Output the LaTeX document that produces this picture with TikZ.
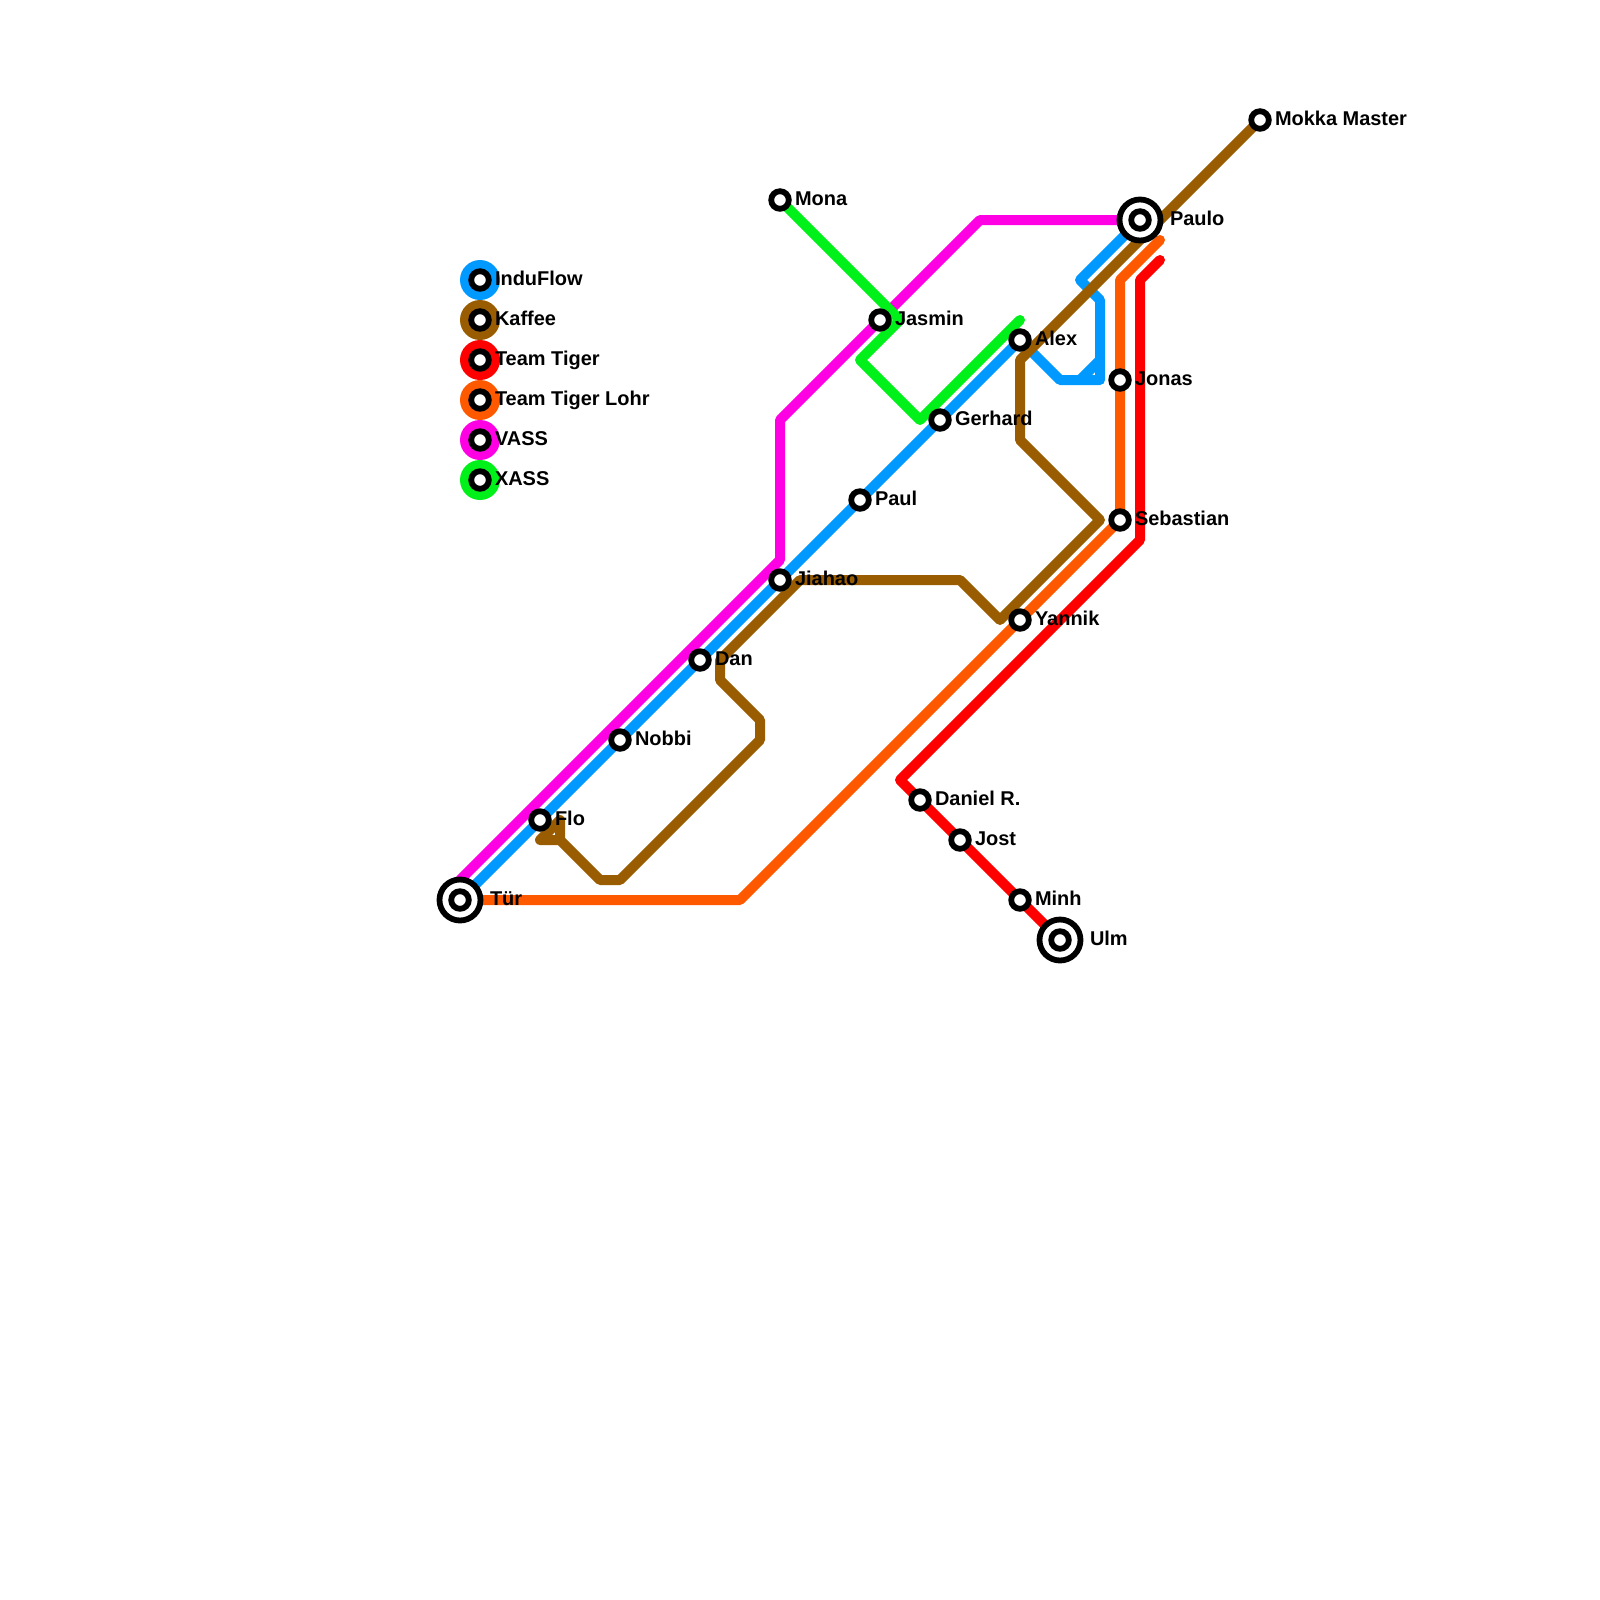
\documentclass[tikz,border=0pt]{standalone}
\usepackage{xcolor}
\usepackage{fontspec}
\setmainfont{Liberation Sans}
\usepackage{tikz}
\usetikzlibrary{positioning}
\definecolor{induflow}{RGB}{0, 153, 255}
\definecolor{kaffee}{RGB}{153, 92, 0}
\definecolor{tiger}{RGB}{255, 0, 0}
\definecolor{tigerlohr}{RGB}{255, 89, 0}
\definecolor{vass}{RGB}{255, 0, 229}
\definecolor{xass}{RGB}{0, 240, 25}
\tikzset{
    metroline/.style={line width=2.5mm, line cap=round, line join=round},
    stopdot/.style={circle, draw=black, fill=white, line width=1.45mm, minimum size=4.4mm, inner sep=0pt, outer sep=0pt},
    endring/.style={stopdot, minimum size=10.25mm},
    legenddisc/.style={circle, minimum size=10mm, inner sep=0pt, outer sep=0pt},
    stoptext/.style={inner sep=0pt, outer sep=0pt, text height=7.4pt, text depth=0pt, font=\bfseries\fontsize{14.2}{15}\selectfont},
}

\begin{document}
\begin{tikzpicture}[x=0.5cm, y=-0.5cm]
    \useasboundingbox (0, 0) rectangle (80, 80);

    % Stations
    \coordinate (Tuer) at (23, 45);
    \coordinate (Flo) at (27, 41);
    \coordinate (Nobbi) at (31, 37);
    \coordinate (Dan) at (35, 33);
    \coordinate (Jiahao) at (39, 29);
    \coordinate (Paul) at (43, 25);
    \coordinate (Gerhard) at (47, 21);
    \coordinate (Alex) at (51, 17);
    \coordinate (Paulo) at (57, 11);
    \coordinate (Mokka) at (63, 6);
    \coordinate (Mona) at (39, 10);
    \coordinate (Jasmin) at (44, 16);
    \coordinate (Jonas) at (56, 19);
    \coordinate (Sebastian) at (56, 26);
    \coordinate (Yannik) at (51, 31);
    \coordinate (Daniel) at (46, 40);
    \coordinate (Jost) at (48, 42);
    \coordinate (Minh) at (51, 45);
    \coordinate (Ulm) at (53, 47);

    % InduFlow
    \draw[metroline, color=induflow] (Tuer) -- (Flo) -- (Nobbi) -- (Dan) -- (Jiahao) -- (Paul) -- (Gerhard) -- (Alex)
        -- (53, 19) -- (55, 19) -- (55, 18) -- (54, 19) -- (55, 18) -- (55, 15) -- (54, 14) -- (Paulo);

    % Kaffee
    \draw[metroline, color=kaffee] (Mokka) -- (51, 18) -- (51, 22) -- (55, 26) -- (50, 31) -- (48, 29)
        -- (40, 29) -- (36, 33) -- (36, 34) -- (38, 36) -- (38, 37) -- (31, 44) -- (30, 44) -- (28, 42)
        -- (27, 42) -- (28, 41) -- (28, 42);

    % Team Tiger
    \draw[metroline, color=tiger] (58, 13) -- (57, 14) -- (57, 27) -- (45, 39) -- (Daniel) -- (Jost) -- (Minh) -- (Ulm);

    % Team Tiger Lohr
    \draw[metroline, color=tigerlohr] (Tuer) -- (37, 45) -- (Yannik) -- (Sebastian) -- (Jonas) -- (56, 14) -- (58, 12);

    % VASS
    \draw[metroline, color=vass] (23, 44) -- (39, 28) -- (39, 21) -- (49, 11) -- (Paulo);

    % XASS
    \draw[metroline, color=xass] (Mona) -- (45, 16) -- (43, 18) -- (46, 21) -- (51, 16);

    % Station markers
    \node[endring] (tuerring) at (Tuer) {};
    \node[stopdot] (tuer) at (Tuer) {};
    \node[stopdot] (flo) at (Flo) {};
    \node[stopdot] (nobbi) at (Nobbi) {};
    \node[stopdot] (dan) at (Dan) {};
    \node[stopdot] (jiahao) at (Jiahao) {};
    \node[stopdot] (paul) at (Paul) {};
    \node[stopdot] (gerhard) at (Gerhard) {};
    \node[stopdot] (alex) at (Alex) {};
    \node[endring] (paulorring) at (Paulo) {};
    \node[stopdot] (paulo) at (Paulo) {};
    \node[stopdot] (mokka) at (Mokka) {};
    \node[stopdot] (mona) at (Mona) {};
    \node[stopdot] (jasmin) at (Jasmin) {};
    \node[stopdot] (jonas) at (Jonas) {};
    \node[stopdot] (sebastian) at (Sebastian) {};
    \node[stopdot] (yannik) at (Yannik) {};
    \node[stopdot] (daniel) at (Daniel) {};
    \node[stopdot] (jost) at (Jost) {};
    \node[stopdot] (minh) at (Minh) {};
    \node[endring] (ulmring) at (Ulm) {};
    \node[stopdot] (ulm) at (Ulm) {};

    % Legend markers
    \node[legenddisc, fill=induflow] (keyblue) at (24, 14) {};
    \node[legenddisc, fill=kaffee] (keybrown) at (24, 16) {};
    \node[legenddisc, fill=tiger] (keyred) at (24, 18) {};
    \node[legenddisc, fill=tigerlohr] (keyorange) at (24, 20) {};
    \node[legenddisc, fill=vass] (keypink) at (24, 22) {};
    \node[legenddisc, fill=xass] (keygreen) at (24, 24) {};
    \node[stopdot] (dotblue) at (keyblue) {};
    \node[stopdot] (dotbrown) at (keybrown) {};
    \node[stopdot] (dotred) at (keyred) {};
    \node[stopdot] (dotorange) at (keyorange) {};
    \node[stopdot] (dotpink) at (keypink) {};
    \node[stopdot] (dotgreen) at (keygreen) {};

    % Station labels
    \node[stoptext, right=7.5mm of tuer.center] (tuerlabel) {Tür};
    \node[stoptext, right=3.75mm of flo.center] (flolabel) {Flo};
    \node[stoptext, right=3.75mm of nobbi.center] (nobbilabel) {Nobbi};
    \node[stoptext, right=3.75mm of dan.center] (danlabel) {Dan};
    \node[stoptext, right=3.75mm of jiahao.center] (jiahaolabel) {Jiahao};
    \node[stoptext, right=3.75mm of paul.center] (paullabel) {Paul};
    \node[stoptext, right=3.75mm of gerhard.center] (gerhardlabel) {Gerhard};
    \node[stoptext, right=3.75mm of alex.center] (alexlabel) {Alex};
    \node[stoptext, right=7.5mm of paulo.center] (paulolabel) {Paulo};
    \node[stoptext, right=3.75mm of mokka.center] (mokkalabel) {Mokka Master};
    \node[stoptext, right=3.75mm of mona.center] (monalabel) {Mona};
    \node[stoptext, right=3.75mm of jasmin.center] (jasminlabel) {Jasmin};
    \node[stoptext, right=3.75mm of jonas.center] (jonaslabel) {Jonas};
    \node[stoptext, right=3.75mm of sebastian.center] (sebastianlabel) {Sebastian};
    \node[stoptext, right=3.75mm of yannik.center] (yanniklabel) {Yannik};
    \node[stoptext, right=3.75mm of daniel.center] (daniellabel) {Daniel R.};
    \node[stoptext, right=3.75mm of jost.center] (jostlabel) {Jost};
    \node[stoptext, right=3.75mm of minh.center] (minhlabel) {Minh};
    \node[stoptext, right=7.5mm of ulm.center] (ulmlabel) {Ulm};

    % Legend labels
    \node[stoptext, right=3.75mm of dotblue.center] (textblue) {InduFlow};
    \node[stoptext, right=3.75mm of dotbrown.center] (textbrown) {Kaffee};
    \node[stoptext, right=3.75mm of dotred.center] (textred) {Team Tiger};
    \node[stoptext, right=3.75mm of dotorange.center] (textorange) {Team Tiger Lohr};
    \node[stoptext, right=3.75mm of dotpink.center] (textpink) {VASS};
    \node[stoptext, right=3.75mm of dotgreen.center] (textgreen) {XASS};
\end{tikzpicture}
\end{document}
